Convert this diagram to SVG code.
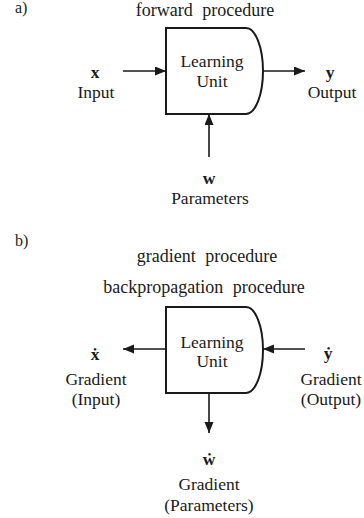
<svg xmlns="http://www.w3.org/2000/svg" width="364" height="518" viewBox="0 0 364 518">
  <style>
    text { font-family: "Liberation Serif", "Times New Roman", serif; font-size: 17.5px; fill: #1a1a1a; text-anchor: middle; }
    .title { font-size: 18px; word-spacing: 5px; }
    .panel { text-anchor: start; font-size: 16px; }
    .var { font-weight: bold; }
    .unit { fill: #fff; stroke: #1a1a1a; stroke-width: 2; }
    .conn line { stroke: #1a1a1a; stroke-width: 1.6; }
  </style>
  <defs>
    <marker id="arr" markerUnits="userSpaceOnUse" markerWidth="12" markerHeight="10" refX="11" refY="4.5" orient="auto">
      <path d="M0,0 L11,4.5 L0,9 Z" fill="#1a1a1a"/>
    </marker>
  </defs>
  <rect width="364" height="518" fill="#fff"/>

  <!-- panel a -->
  <text class="panel" x="15" y="13">a)</text>
  <text class="title" x="205" y="16">forward procedure</text>

  <g id="unit-a">
    <path class="unit" d="M166,28 H246 A17,43 0 0 1 246,114 H166 Z"/>
    <text x="212" y="67">Learning</text>
    <text x="212" y="86.5">Unit</text>
  </g>
  <g id="input-a">
    <text class="var" x="95" y="78">x</text>
    <text x="96" y="98">Input</text>
  </g>
  <g id="output-a">
    <text class="var" x="330" y="78">y</text>
    <text x="332" y="98">Output</text>
  </g>
  <g id="params-a">
    <text class="var" x="209" y="184">w</text>
    <text x="210" y="204">Parameters</text>
  </g>

  <!-- panel b -->
  <text class="panel" x="15" y="246">b)</text>
  <text class="title" x="207" y="262">gradient procedure</text>
  <text class="title" x="204" y="293">backpropagation procedure</text>

  <g id="unit-b">
    <path class="unit" d="M166,307 H246 A17,43 0 0 1 246,393 H166 Z"/>
    <text x="212" y="348">Learning</text>
    <text x="212" y="367">Unit</text>
  </g>
  <g id="input-b">
    <text class="var" x="95" y="360">ẋ</text>
    <text x="96" y="385">Gradient</text>
    <text x="96" y="405">(Input)</text>
  </g>
  <g id="output-b">
    <text class="var" x="328" y="359">ẏ</text>
    <text x="331" y="385">Gradient</text>
    <text x="331" y="405">(Output)</text>
  </g>
  <g id="params-b">
    <text class="var" x="209" y="465">ẇ</text>
    <text x="209" y="490">Gradient</text>
    <text x="209" y="511">(Parameters)</text>
  </g>

  <g id="connectors" class="conn">
    <line x1="123" y1="71" x2="166" y2="71" marker-end="url(#arr)"/>
    <line x1="263" y1="71" x2="305" y2="71" marker-end="url(#arr)"/>
    <line x1="209" y1="157" x2="209" y2="114" marker-end="url(#arr)"/>
    <line x1="166" y1="349" x2="123" y2="349" marker-end="url(#arr)"/>
    <line x1="305" y1="349" x2="263" y2="349" marker-end="url(#arr)"/>
    <line x1="209" y1="393" x2="209" y2="433" marker-end="url(#arr)"/>
  </g>
</svg>
